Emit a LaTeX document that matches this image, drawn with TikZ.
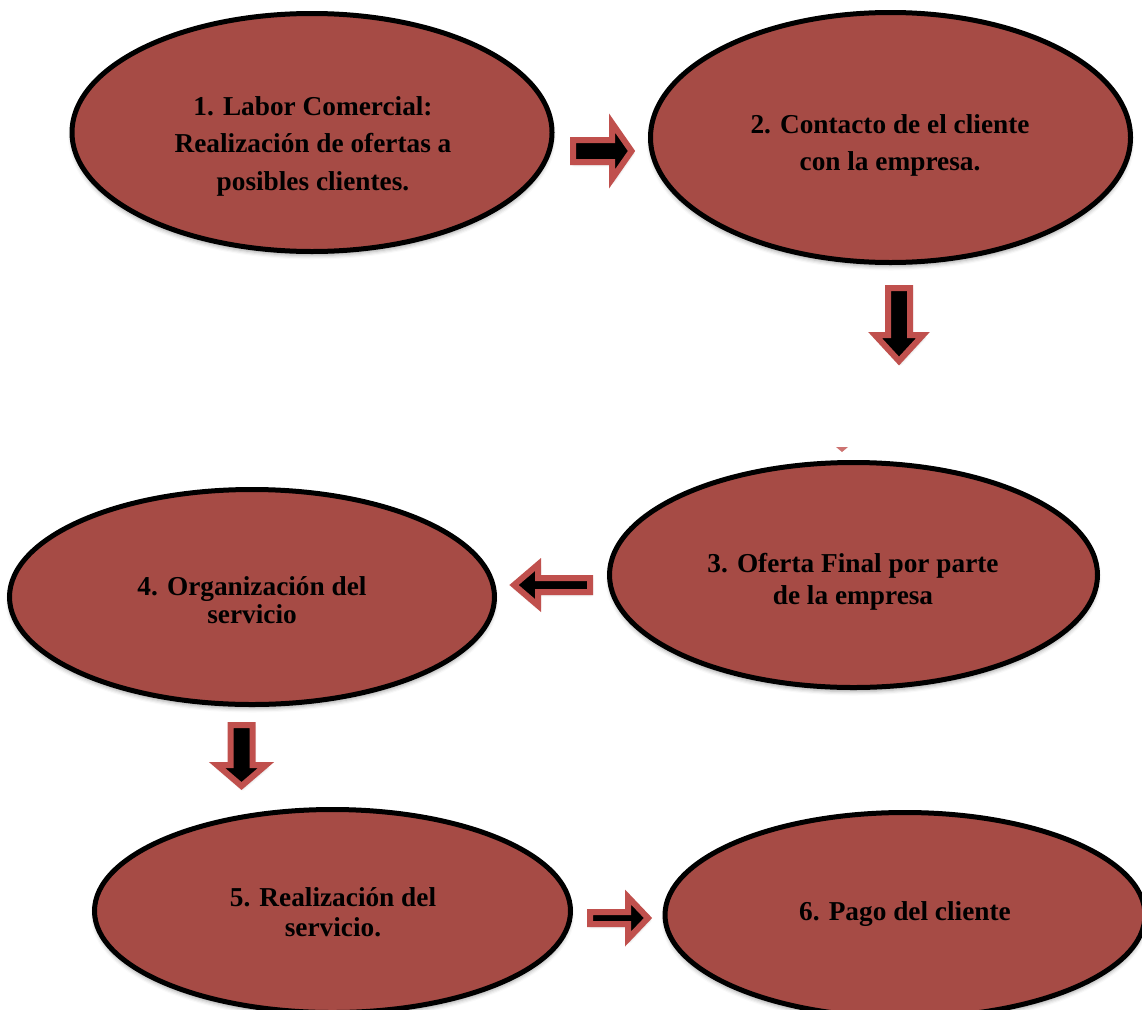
\documentclass[tikz,border=0pt]{standalone}
\usepackage{fontspec}
\setmainfont{Liberation Serif}
\usetikzlibrary{shapes.geometric,shadows.blur}
\definecolor{ovalfill}{RGB}{166,75,69}
\definecolor{arrowedge}{RGB}{192,80,77}
\tikzset{
  oval/.style={ellipse, draw=black, line width=5pt, fill=ovalfill, inner sep=0pt,
    blur shadow={shadow xshift=0pt, shadow yshift=-4pt, shadow blur radius=4pt, shadow opacity=35}},
  % anchored at the baseline of the last line
  lbl/.style={align=center, inner sep=0pt, anchor=base,
    font=\bfseries\fontsize{27.3}{#1}\selectfont},
  blockarrow/.style={draw=arrowedge, fill=black, line width=6pt, line join=miter,
    blur shadow={shadow xshift=1pt, shadow yshift=-2pt, shadow blur radius=3pt, shadow opacity=30}}
}
% block arrow: tail (x,y), rotation, length, shaft half width, head half width, head length
\newcommand\blockarr[7]{%
  \draw[blockarrow, shift={(#1,#2)}, rotate=#3]
    (0,-#5) -- ({#4-#7},-#5) -- ({#4-#7},-#6) -- (#4,0) -- ({#4-#7},#6)
    -- ({#4-#7},#5) -- (0,#5) -- cycle;}
\begin{document}
\begin{tikzpicture}[x=1pt,y=-1pt]
  \useasboundingbox (0,0) rectangle (1142,1009);
  \clip (0,0) rectangle (1142,1009);

  % process steps
  \node[oval, minimum width=480pt, minimum height=238pt] (e1) at (312,132.5) {};
  \node[oval, minimum width=480pt, minimum height=250pt] (e2) at (890.5,137.5) {};
  \node[oval, minimum width=488pt, minimum height=225pt] (e3) at (853.5,575) {};
  \node[oval, minimum width=485pt, minimum height=215pt] (e4) at (252,597) {};
  \node[oval, minimum width=476pt, minimum height=203pt] (e5) at (332.5,911) {};
  \node[oval, minimum width=480pt, minimum height=205pt] (e6) at (905,915) {};

  \node[lbl=37.5] (t1) at (313,190) {1. Labor Comercial:\\Realización de ofertas a\\posibles clientes.};
  \node[lbl=37] (t2) at (890,170) {2. Contacto de el cliente\\con la empresa.};
  \node[lbl=32] (t3) at (853,604) {3. Oferta Final por parte\\de la empresa};
  \node[lbl=28] (t4) at (252,623) {4. Organización del\\servicio};
  \node[lbl=30] (t5) at (333,936) {5. Realización del\\servicio.};
  \node[lbl=30] (t6) at (905,920) {6. Pago del cliente};

  % flow arrows
  \blockarr{573}{151}{0}{58.5}{11}{28}{19.5}
  \blockarr{899}{288}{-90}{73}{11}{24}{26}
  \blockarr{590}{585}{180}{76}{7}{20.5}{24}
  \blockarr{241.5}{725}{-90}{61}{11}{24.5}{21}
  \blockarr{590}{918}{0}{58}{6}{21}{20}

  % tip of a partly hidden arrow above step 3
  \fill[arrowedge, opacity=0.8] (836,447) -- (848,447) -- (842,452) -- cycle;
\end{tikzpicture}
\end{document}
